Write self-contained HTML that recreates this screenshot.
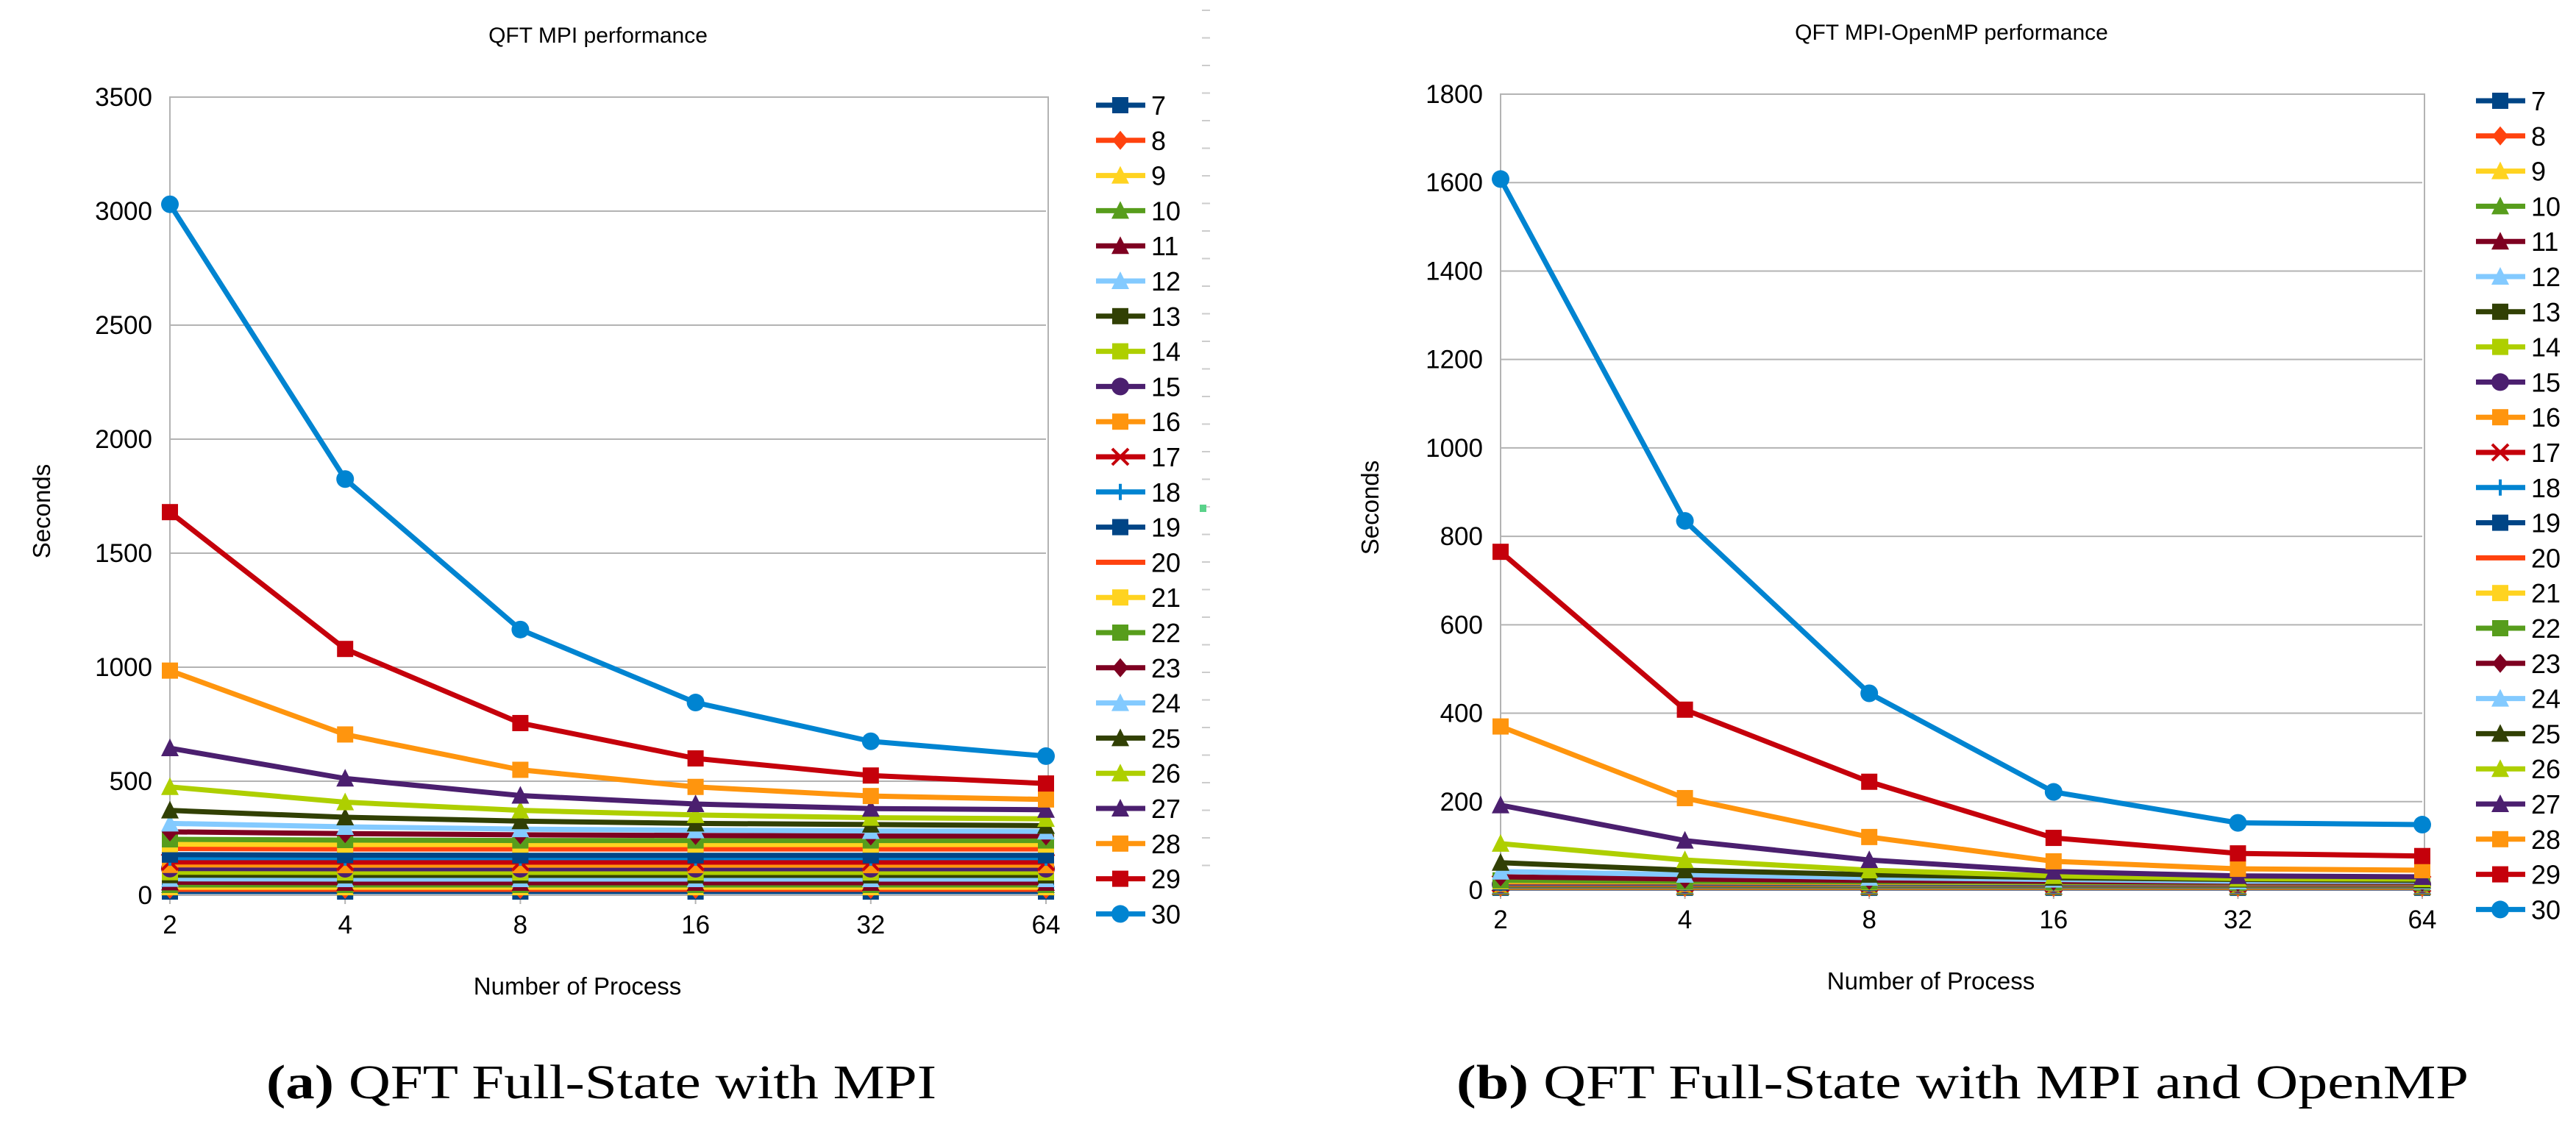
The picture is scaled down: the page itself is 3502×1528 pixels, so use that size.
<!DOCTYPE html>
<html><head><meta charset="utf-8"><style>
html,body{margin:0;padding:0;background:#fff}
svg{display:block}
text{font-family:"Liberation Sans","DejaVu Sans",sans-serif;fill:#000}
.cap{font-family:"Liberation Serif",serif}
</style></head><body>
<svg id="svg" width="3502" height="1528" viewBox="0 0 3502 1528"></svg>
<script>
const categories=["2","4","8","16","32","64"];
const seriesNames=["7","8","9","10","11","12","13","14","15","16","17","18","19","20","21","22","23","24","25","26","27","28","29","30"];
const mpiValues=[
[16,16,16,16,16,16],[26,26,26,26,26,26],[35,35,35,35,35,35],[45,45,45,45,45,45],
[57,55,55,55,55,55],[72,71,71,71,71,71],[88,87,87,87,87,87],[101,100,100,100,100,100],
[117,116,116,116,116,116],[133,132,132,132,132,132],[146,145,145,145,145,145],[165,165,165,165,165,165],
[178,176,175,175,175,175],[205,203,203,203,203,203],[224,222,222,222,222,222],[245,242,240,240,240,240],
[278,270,265,262,260,260],[315,300,290,285,282,280],[372,342,325,315,310,305],[475,408,372,352,340,335],
[645,512,437,400,380,375],[985,705,550,475,435,420],[1680,1080,755,600,525,490],[3030,1825,1165,845,675,610]];
const ompValues=[
[5,5,5,5,5,5],[6,6,6,6,6,6],[7,7,7,7,7,7],[8,8,8,8,8,8],[9,9,9,9,9,9],[10,10,10,10,10,10],
[11,11,11,11,11,11],[12,12,12,12,12,12],[13,13,13,13,13,13],[14,14,14,14,14,14],[15,15,15,14,14,14],
[16,16,15,15,15,15],[17,17,16,16,16,16],[18,18,17,17,16,16],[20,19,18,17,17,17],[22,20,19,18,17,17],
[30,25,22,20,18,18],[42,35,28,24,20,20],[62,45,35,28,24,22],[105,68,45,32,26,25],
[192,112,68,42,32,30],[370,208,120,65,48,45],[765,408,245,118,83,77],[1608,835,445,222,152,148]];
const mpiTicks=[0,500,1000,1500,2000,2500,3000,3500];
const ompTicks=[0,200,400,600,800,1000,1200,1400,1600,1800];
const colors=["#004586","#ff420e","#ffd320","#579d1c","#7e0021","#83caff","#314004","#aecf00","#4b1f6f","#ff950e","#c5000b","#0084d1"];
const shapes=["sq","dia","tri","tri","tri","tri","sq","sq","circ","sq","x","plus","sq","none","sq","sq","dia","tri","tri","tri","tri","sq","sq","circ"];
const NS="http://www.w3.org/2000/svg";
const svg=document.getElementById('svg');
function mk(tag,attrs,parent,txt){const e=document.createElementNS(NS,tag);for(const k in attrs)e.setAttribute(k,attrs[k]);if(txt!==undefined)e.textContent=txt;(parent||svg).appendChild(e);return e;}
function marker(g,shape,x,y,c){
  const s=11;let m;
  if(shape==="none")return;
  if(shape==="sq")m=mk('rect',{x:x-s,y:y-s,width:2*s,height:2*s,fill:c},g);
  else if(shape==="dia")m=mk('polygon',{points:`${x},${y-s-2} ${x+s},${y} ${x},${y+s+2} ${x-s},${y}`,fill:c},g);
  else if(shape==="tri")m=mk('polygon',{points:`${x},${y-s-2} ${x+s+1},${y+s} ${x-s-1},${y+s}`,fill:c},g);
  else if(shape==="circ")m=mk('circle',{cx:x,cy:y,r:s+1,fill:c},g);
  else if(shape==="x")m=mk('path',{d:`M${x-s} ${y-s}L${x+s} ${y+s}M${x+s} ${y-s}L${x-s} ${y+s}`,stroke:c,'stroke-width':4},g);
  else m=mk('path',{d:`M${x-s} ${y}L${x+s} ${y}M${x} ${y-s}L${x} ${y+s}`,stroke:c,'stroke-width':4},g);
  
  
}
function chart(cfg){
  const g=mk('g',{});
  
  
  const {x0,x1,y0,y1,max}=cfg;
  const X=i=>x0+(x1-x0)*i/(categories.length-1);
  const Y=v=>y0-(y0-y1)*v/max;
  const t=mk('text',{x:cfg.titleX,y:cfg.titleY,'font-size':30,'text-anchor':'middle'},g,cfg.title);
  
  cfg.ticks.forEach(v=>{
    const l=mk('line',{x1:x0,x2:x1,y1:Y(v),y2:Y(v),stroke:'#b3b3b3','stroke-width':2},g);
    
    const tl=mk('text',{x:x0-24,y:Y(v)+12,'font-size':35,'text-anchor':'end'},g,String(v));
    
  });
  const b=mk('rect',{x:x0,y:y1,width:x1-x0+3,height:y0-y1,fill:'none',stroke:'#b3b3b3','stroke-width':2},g);
  
  categories.forEach((c,i)=>{
    mk('line',{x1:X(i),x2:X(i),y1:y0,y2:y0+12,stroke:'#b3b3b3','stroke-width':2},g);
    const tl=mk('text',{x:X(i),y:y0+52,'font-size':35,'text-anchor':'middle'},g,c);
    
  });
  cfg.values.forEach((vals,si)=>{
    const c=colors[si%12],sh=shapes[si];
    const sg=mk('g',{},g);
    
    
    mk('polyline',{points:vals.map((v,i)=>X(i)+','+Y(v)).join(' '),fill:'none',stroke:c,'stroke-width':7,'stroke-linejoin':'round'},sg);
    vals.forEach((v,i)=>marker(sg,sh,X(i),Y(v),c));
    const ly=cfg.legY+si*cfg.legStep;
    const lg=mk('g',{},g);
    
    
    mk('line',{x1:cfg.legX,x2:cfg.legX+67,y1:ly,y2:ly,stroke:c,'stroke-width':7},lg);
    marker(lg,sh,cfg.legX+33,ly,c);
    mk('text',{x:cfg.legX+75,y:ly+13,'font-size':36},lg,seriesNames[si]);
  });
  const yt=mk('text',{x:cfg.ytX,y:cfg.ytY,'font-size':33,'text-anchor':'middle',transform:`rotate(-90 ${cfg.ytX} ${cfg.ytY})`},g,'Seconds');
  
  const xt=mk('text',{x:cfg.xtX,y:cfg.xtY,'font-size':33,'text-anchor':'middle'},g,'Number of Process');
  
}
chart({name:'mpi-chart',title:'QFT MPI performance',titleX:813,titleY:58,x0:231,x1:1422,y0:1217,y1:132,max:3500,ticks:mpiTicks,values:mpiValues,legX:1490,legY:143,legStep:47.8,ytX:68,ytY:695,xtX:785,xtY:1352});
chart({name:'mpi-openmp-chart',title:'QFT MPI-OpenMP performance',titleX:2653,titleY:54,x0:2040,x1:3293,y0:1210,y1:128,max:1800,ticks:ompTicks,values:ompValues,legX:3366,legY:137,legStep:47.8,ytX:1874,ytY:690,xtX:2625,xtY:1345});
for(let i=0;i<32;i++){const d=mk('line',{x1:1634,x2:1645,y1:14+i*37.5,y2:14+i*37.5,stroke:'#cccccc','stroke-width':2});}
mk('rect',{x:1631,y:686,width:9,height:10,fill:'#5ad28a'});
const c1=mk('text',{x:362,y:1493,'font-size':66,class:'cap',textLength:911,lengthAdjust:'spacingAndGlyphs'});

c1.innerHTML='<tspan font-weight="bold">(a)</tspan> QFT Full-State with MPI';
const c2=mk('text',{x:1980,y:1493,'font-size':66,class:'cap',textLength:1376,lengthAdjust:'spacingAndGlyphs'});

c2.innerHTML='<tspan font-weight="bold">(b)</tspan> QFT Full-State with MPI and OpenMP';
</script>
</body></html>
